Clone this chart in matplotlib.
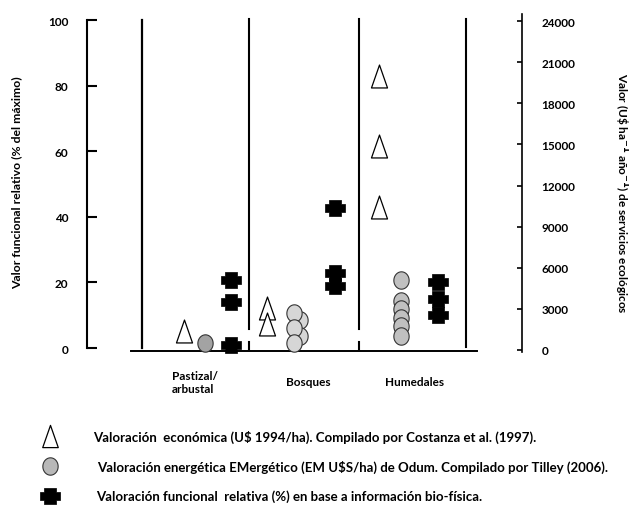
import numpy as np
import matplotlib
matplotlib.use("Agg")
import matplotlib.pyplot as plt
from matplotlib.path import Path
from matplotlib.lines import Line2D

plt.rcParams['font.family'] = ['Lato', 'DejaVu Sans']
plt.rcParams['font.weight'] = 'bold'

# ---------------- data ----------------
categories = ["Pastizal/\narbustal", "Bosques", "Humedales"]
# Economic valuation (US$ 1994/ha) - right axis
econ_pastizal = [1350]
econ_bosques = [3060, 1900]
econ_humedales = [20000, 14900, 10400]
# Emergy valuation (EM US$/ha) - right axis
emergy_pastizal = [510]
emergy_bosques_a = [2700, 1640, 510]
emergy_bosques_b = [2190, 1020]
emergy_humedales = [5140, 3570, 2970, 2360, 1750, 1020]
# Relative functional value (%) - left axis
func_pastizal = [20.7, 13.9, 0.8]
func_bosques = [42.7, 22.9, 18.9]
func_humedales = [20.0, 15.0, 10.2]

left_ticks = [0, 20, 40, 60, 80, 100]
right_ticks = [0, 3000, 6000, 9000, 12000, 15000, 18000, 21000, 24000]

left_label = "Valor funcional relativo (% del máximo)"
right_label = "Valor (U\\$ ha$^{-1}$ año$^{-1}$) de servicios ecológicos"
legend_texts = [
    "Valoración  económica (U$ 1994/ha). Compilado por Costanza et al. (1997).",
    "Valoración energética EMergético (EM U$S/ha) de Odum. Compilado por Tilley (2006).",
    "Valoración funcional  relativa (%) en base a información bio-física.",
]

# ---------------- layout ----------------
cat_x = np.arange(3)
econ_off = [-0.104, -0.36, -0.347]
emergy_off = [0.081, -0.12, -0.153]
emergy_off_b = -0.06
func_off = [0.315, 0.248, 0.18]
label_off = [-0.01, 0.014, -0.027]

# marker shapes
tri = Path([(0, 1), (-0.7, -1), (0.7, -1), (0, 1)],
           [Path.MOVETO, Path.LINETO, Path.LINETO, Path.CLOSEPOLY])
t = np.linspace(0, 2 * np.pi, 60)
ell = Path(np.column_stack([0.88 * np.cos(t), np.sin(t)]), closed=True)
cv = [(-1, -0.42), (-1, 0.42), (-0.62, 0.42), (-0.62, 0.78), (0.62, 0.78),
      (0.62, 0.42), (1, 0.42), (1, -0.42), (0.62, -0.42), (0.62, -0.78),
      (-0.62, -0.78), (-0.62, -0.42), (-1, -0.42)]
cross = Path(cv, closed=True)

W, H = 629, 506
fig = plt.figure(figsize=(W / 100, H / 100), dpi=100)
ax = fig.add_axes([87 / W, 1 - 356 / H, (522 - 87) / W, (356 - 15) / H])
ax.set_xlim(-0.982, 2.937)
ax.set_ylim(-2.13, 101.83)
ax2 = ax.twinx()
ax2.set_ylim(-365, 24511)
ax.set_xticks([])

for s in ["top", "bottom", "right"]:
    ax.spines[s].set_visible(False)
for s in ["top", "bottom", "left"]:
    ax2.spines[s].set_visible(False)
ax.spines["left"].set_bounds(0, 100)
ax.spines["left"].set_linewidth(1.5)
ax2.spines["right"].set_bounds(-146, 24511)
ax2.spines["right"].set_linewidth(1.2)

ax.set_yticks(left_ticks)
ax.tick_params(axis='y', direction='in', length=7.2, width=1.5, pad=13.5,
               labelsize=8.5)
ax2.set_yticks(right_ticks)
ax2.tick_params(axis='y', direction='in', length=3.6, width=1.2, pad=14,
                labelsize=8.5)

# baseline
ax.plot([-0.586, 2.53], [-0.9, -0.9], color='black', lw=1.4, zorder=1)
# dividers
ax.plot([-0.486, -0.486], [0, 100], color='black', lw=1.6, zorder=1)
for xd in [0.477, 1.468]:
    ax.plot([xd, xd], [5.8, 100.3], color='black', lw=1.5, zorder=1)
    ax.plot([xd, xd], [-0.3, 1.8], color='black', lw=1.5, zorder=1)
ax.plot([2.432, 2.432], [0.3, 100.3], color='black', lw=1.5, zorder=1)

# functional crosses (left axis)
for i, vals in enumerate([func_pastizal, func_bosques, func_humedales]):
    ax.plot([cat_x[i] + func_off[i]] * len(vals), vals, linestyle='none',
            marker=cross, ms=14, mfc='black', mec='black', mew=0.5, zorder=3)

# economic triangles (right axis)
for i, vals in enumerate([econ_pastizal, econ_bosques, econ_humedales]):
    ax2.plot([cat_x[i] + econ_off[i]] * len(vals), vals, linestyle='none',
             marker=tri, ms=16.5, mfc='white', mec='black', mew=0.9, zorder=3)

# emergy circles (right axis)
ax2.plot([cat_x[0] + emergy_off[0]] * len(emergy_pastizal), emergy_pastizal,
         linestyle='none', marker=ell, ms=12.5, mfc='#a3a3a3', mec='#333333',
         mew=0.8, zorder=3)
ax2.plot([cat_x[1] + emergy_off_b] * len(emergy_bosques_b), emergy_bosques_b,
         linestyle='none', marker=ell, ms=12.5, mfc='#d6d6d6', mec='#333333',
         mew=0.8, zorder=3)
ax2.plot([cat_x[1] + emergy_off[1]] * len(emergy_bosques_a), emergy_bosques_a,
         linestyle='none', marker=ell, ms=12.5, mfc='#d6d6d6', mec='#333333',
         mew=0.8, zorder=3)
for k, v in enumerate(emergy_humedales):
    ax2.plot([cat_x[2] + emergy_off[2]], [v], linestyle='none', marker=ell,
             ms=12.5, mfc='#c0c0c0', mec='#333333', mew=0.8, zorder=3 + k)

# category labels
for i, lab in enumerate(categories):
    ax.text(cat_x[i] + label_off[i], -10.3, lab, ha='center', va='center',
            fontsize=8.5, multialignment='left')

# axis labels
fig.text(17 / W, 1 - 183 / H, left_label,
         rotation=90, ha='center', va='center', fontsize=8.8)
fig.text(621 / W, 1 - 193 / H, right_label,
         rotation=-90, ha='center', va='center', fontsize=8.5)

# legend
leg_y = [437, 467, 497]
leg_tx = [93, 97, 96]
fig.add_artist(Line2D([50 / W], [1 - leg_y[0] / H], transform=fig.transFigure,
                      marker=tri, ms=16, mfc='white', mec='black', mew=0.9,
                      linestyle='none'))
fig.add_artist(Line2D([50 / W], [1 - leg_y[1] / H], transform=fig.transFigure,
                      marker=ell, ms=12.5, mfc='#b8b8b8', mec='#333333',
                      mew=0.8, linestyle='none'))
fig.add_artist(Line2D([50 / W], [1 - leg_y[2] / H], transform=fig.transFigure,
                      marker=cross, ms=14, mfc='black', mec='black', mew=0.5,
                      linestyle='none'))
for k in range(3):
    fig.text(leg_tx[k] / W, 1 - leg_y[k] / H, legend_texts[k], ha='left',
             va='center', fontsize=9.5)

fig.savefig("out.png", dpi=100)
